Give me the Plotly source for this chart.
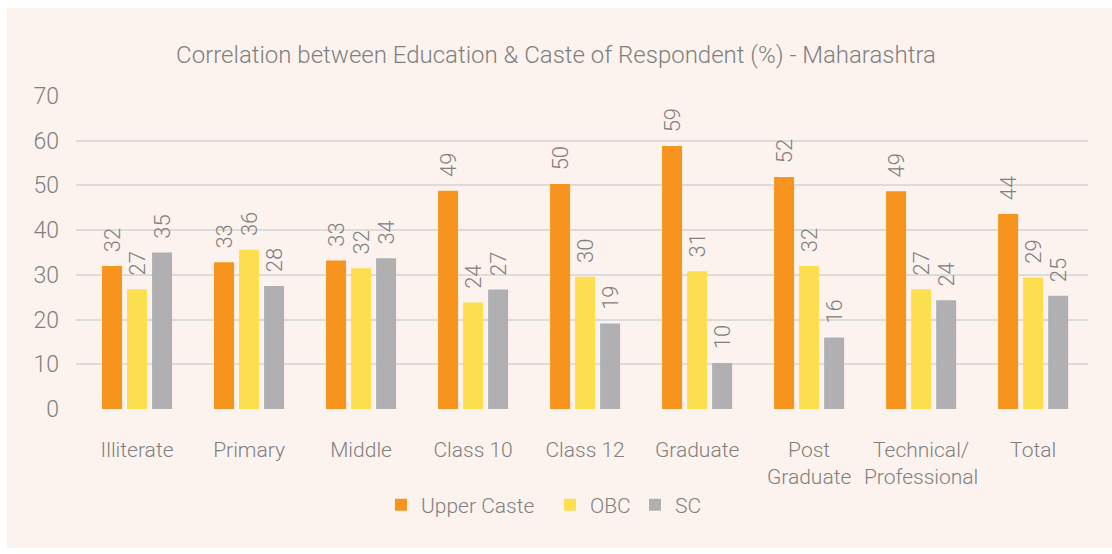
import plotly.graph_objects as go

categories = ["Illiterate", "Primary", "Middle", "Class 10", "Class 12", "Graduate",
              "Post<br>Graduate", "Technical/<br>Professional", "Total"]
upper_caste = [32.0, 32.8, 33.2, 48.8, 50.3, 58.8, 51.9, 48.7, 43.6]
obc = [26.8, 35.6, 31.5, 23.8, 29.6, 30.8, 32.0, 26.8, 29.4]
sc = [35.0, 27.5, 33.7, 26.7, 19.1, 10.3, 16.0, 24.3, 25.3]
y_ticks = [0, 10, 20, 30, 40, 50, 60, 70]

series = [("Upper Caste", upper_caste, "#F7941D", "legend"),
          ("OBC", obc, "#FDDE4F", "legend2"),
          ("SC", sc, "#B0B0B3", "legend3")]

FONT = "Roboto"
GREY = "#808080"
BG = "#FCF3EE"

fig = go.Figure()
xs = list(range(len(categories)))
for name, vals, color, lg in series:
    fig.add_trace(go.Bar(
        x=xs, y=vals, name=name, legend=lg,
        marker=dict(color=color, line=dict(width=0)),
        texttemplate="\u00a0\u00a0%{y:.0f}", textposition="outside", textangle=-90,
        constraintext="none",
        textfont=dict(family=FONT, size=22, color=GREY, weight=300),
        cliponaxis=False,
    ))

L, T, W, H = 76, 96, 1012, 313


def px_x(px):
    return (px - L) / W


def px_y(py):
    return (T + H - py) / H


leg_common = dict(orientation="h", yanchor="middle", y=px_y(505), xanchor="left",
                  font=dict(family=FONT, size=21, color=GREY, weight=300),
                  bgcolor="rgba(0,0,0,0)", itemwidth=30)

fig.update_layout(
    width=1112, height=554,
    margin=dict(l=L, r=1112 - L - W, t=T, b=554 - T - H),
    paper_bgcolor="white", plot_bgcolor=BG,
    barmode="group", bargap=0.33, bargroupgap=0.2,
    font=dict(family=FONT, color=GREY, weight=300),
    title=dict(text="Correlation between Education & Caste of Respondent (%) - Maharashtra",
               x=0.5, xanchor="center", y=1 - 55 / 554, yanchor="middle",
               font=dict(family=FONT, size=24, color=GREY, weight=300)),
    showlegend=True,
    legend=dict(x=px_x(381), **leg_common),
    legend2=dict(x=px_x(550), **leg_common),
    legend3=dict(x=px_x(635), **leg_common),
    shapes=[dict(type="rect", xref="paper", yref="paper", layer="below",
                 x0=px_x(7), x1=px_x(1112), y0=px_y(548), y1=px_y(8),
                 fillcolor=BG, line=dict(width=0))],
)
fig.update_xaxes(
    range=[-0.545, 8.49], tickmode="array", tickvals=xs, ticktext=categories,
    showgrid=False, zeroline=False, showline=False, ticks="",
    tickfont=dict(family=FONT, size=21, color=GREY, weight=300),
    ticklabelstandoff=26,
)
fig.update_yaxes(
    range=[0, 70], tickmode="array", tickvals=y_ticks,
    showgrid=True, gridcolor="#DCDCDC", gridwidth=1.5, zeroline=False,
    showline=False, ticks="",
    tickfont=dict(family=FONT, size=23, color=GREY, weight=300),
    ticklabelstandoff=16,
)

fig.write_html("out.html", config={"displayModeBar": False},
               post_script="document.body.style.margin='0';")
